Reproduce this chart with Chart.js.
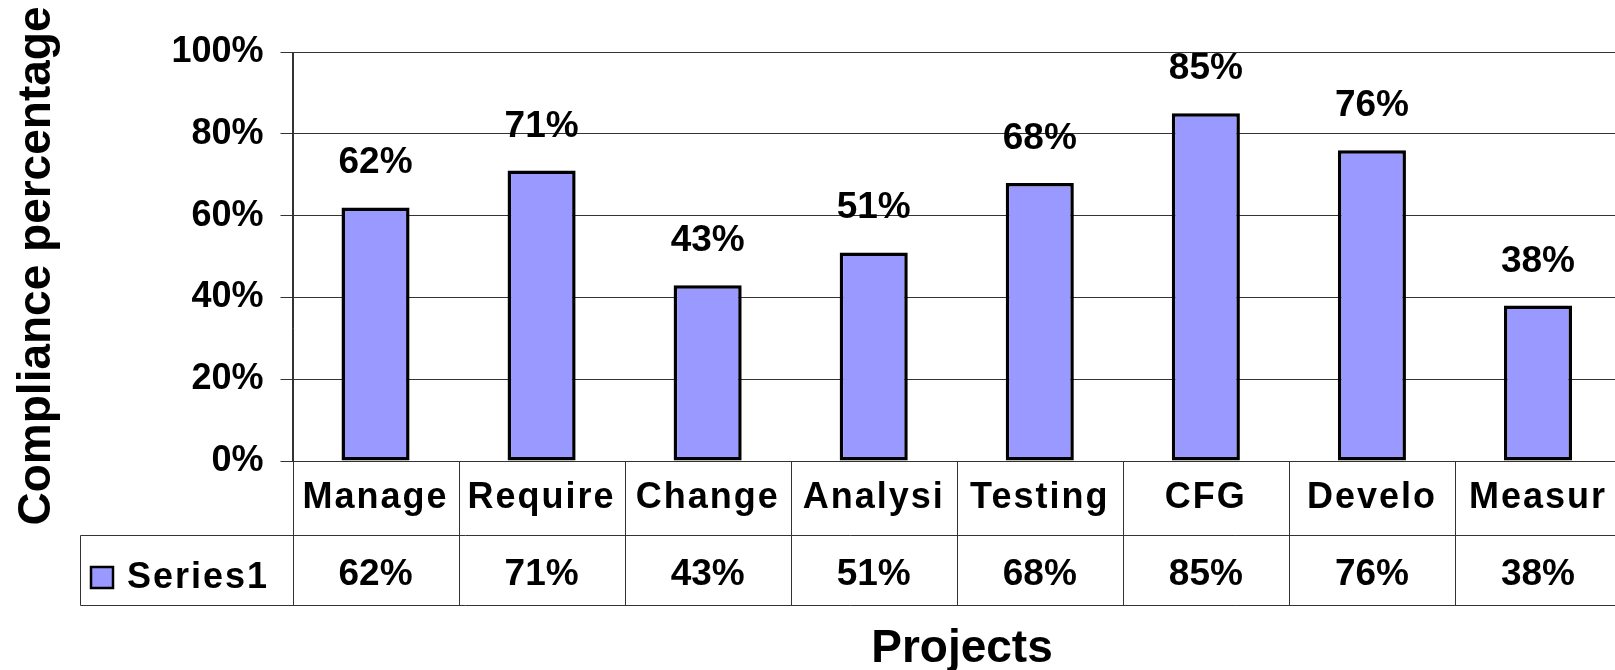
<!DOCTYPE html>
<html>
<head>
<meta charset="utf-8">
<script src="https://cdn.jsdelivr.net/npm/chart.js@4/dist/chart.umd.min.js"></script>
<style>
html, body { margin: 0; padding: 0; overflow: hidden; background: #fff; }
canvas { display: block; }
</style>
</head>
<body>
<canvas id="c" width="1621" height="670"></canvas>
<script>
const categories = ['Manage', 'Require', 'Change', 'Analysi', 'Testing', 'CFG', 'Develo', 'Measur'];
const series1 = [62, 71, 43, 51, 68, 85, 76, 38];
const seriesName = 'Series1';
const yTicks = [0, 20, 40, 60, 80, 100];
const yTitle = 'Compliance percentage';
const xTitle = 'Projects';

const FONT = '"Liberation Sans", Arial, sans-serif';
const FILL = '#9999FF';
const GRID = '#333333';

Chart.defaults.color = '#000';
Chart.defaults.font.family = FONT;

const tablePlugin = {
  id: 'tablePlugin',
  afterDraw(chart) {
    const ctx = chart.ctx;
    const ca = chart.chartArea;
    const xs = chart.scales.x;
    const half = (xs.getPixelForValue(1) - xs.getPixelForValue(0)) / 2;
    const row1 = 535.5, row2 = 605.5, tableLeft = 80.5;
    ctx.save();
    // data labels above bars
    const meta = chart.getDatasetMeta(0);
    ctx.font = 'bold 37px ' + FONT;
    ctx.fillStyle = '#000';
    ctx.textAlign = 'center';
    ctx.textBaseline = 'alphabetic';
    meta.data.forEach((bar, i) => {
      ctx.fillText(series1[i] + '%', bar.x, bar.y - 34);
    });
    // table lines
    ctx.strokeStyle = GRID;
    ctx.lineWidth = 1;
    ctx.beginPath();
    ctx.moveTo(tableLeft, row1); ctx.lineTo(chart.width, row1);
    ctx.moveTo(tableLeft, row2); ctx.lineTo(chart.width, row2);
    ctx.moveTo(tableLeft, row1); ctx.lineTo(tableLeft, row2);
    for (let i = 0; i <= categories.length; i++) {
      const x = Math.round(xs.getPixelForValue(i) - half) + 0.5;
      ctx.moveTo(x, i === 0 ? ca.top : ca.bottom);
      ctx.lineTo(x, row2);
    }
    ctx.stroke();
    // category labels and values
    ctx.font = 'bold 36px ' + FONT;
    ctx.letterSpacing = '2px';
    categories.forEach((c, i) => {
      const x = xs.getPixelForValue(i);
      ctx.fillText(c, x, 508);
    });
    ctx.letterSpacing = '0px';
    ctx.font = 'bold 37px ' + FONT;
    series1.forEach((v, i) => {
      const x = xs.getPixelForValue(i);
      ctx.fillText(v + '%', x, 585);
    });
    // legend key
    ctx.fillStyle = FILL;
    ctx.fillRect(91, 567, 22, 21);
    ctx.strokeStyle = '#000';
    ctx.lineWidth = 2.5;
    ctx.strokeRect(91, 567, 22, 21);
    ctx.fillStyle = '#000';
    ctx.textAlign = 'left';
    ctx.font = 'bold 36px ' + FONT;
    ctx.letterSpacing = '2px';
    ctx.fillText(seriesName, 127, 588);
    ctx.letterSpacing = '0px';
    // axis titles
    ctx.font = 'bold 46px ' + FONT;
    ctx.textAlign = 'center';
    ctx.fillText(xTitle, 962, 662);
    ctx.translate(50, 266);
    ctx.rotate(-Math.PI / 2);
    ctx.fillText(yTitle, 0, 0);
    ctx.restore();
  }
};

new Chart(document.getElementById('c'), {
  type: 'bar',
  data: {
    labels: categories,
    datasets: [{
      label: seriesName,
      data: series1,
      backgroundColor: FILL,
      borderColor: '#000',
      borderWidth: 3.5,
      borderSkipped: false,
      barPercentage: 0.41,
      categoryPercentage: 1
    }]
  },
  options: {
    responsive: false,
    animation: false,
    layout: { padding: { top: 52, left: 0, right: 0, bottom: 0 } },
    plugins: { legend: { display: false }, tooltip: { enabled: false } },
    scales: {
      x: {
        grid: { display: false },
        border: { display: false },
        ticks: { display: false },
        afterFit(scale) { scale.height = 209; }
      },
      y: {
        min: 0,
        max: 100,
        afterBuildTicks(scale) { scale.ticks = yTicks.map(v => ({ value: v })); },
        ticks: {
          stepSize: 20,
          padding: 17,
          font: { size: 36, weight: 'bold', family: FONT },
          color: '#000',
          callback: v => v + '%'
        },
        grid: { color: GRID, lineWidth: 1, tickLength: 12, drawTicks: true },
        border: { display: true, color: GRID, width: 1 },
        afterFit(scale) { scale.width = 292.5; }
      }
    }
  },
  plugins: [tablePlugin]
});
</script>
</body>
</html>
